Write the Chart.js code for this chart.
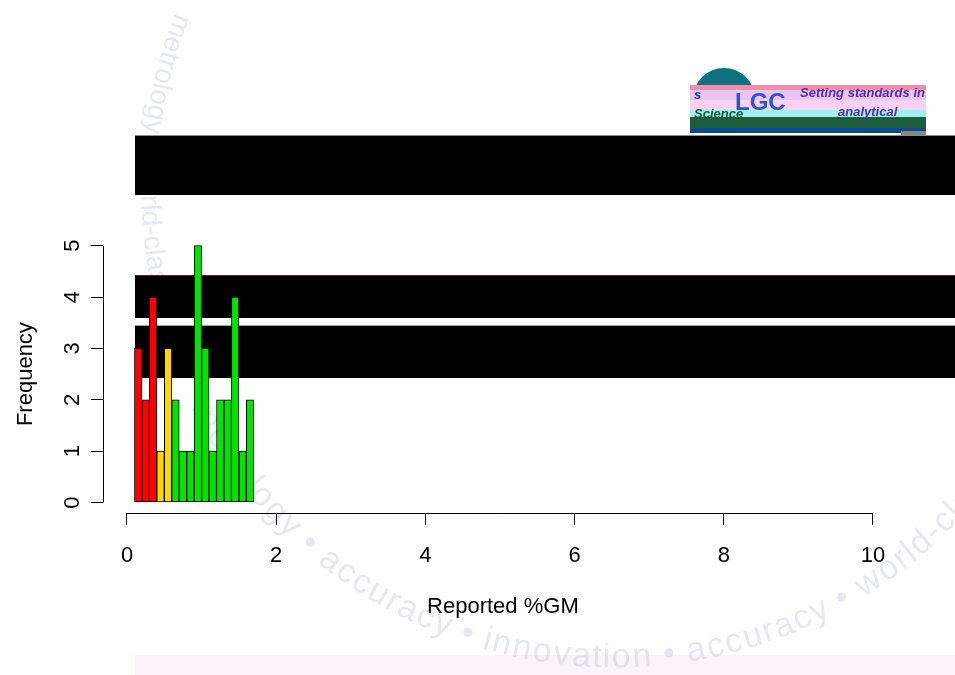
<!DOCTYPE html>
<html><head><meta charset="utf-8">
<script src="https://cdn.jsdelivr.net/npm/chart.js@4/dist/chart.umd.min.js"></script>
<style>html,body{margin:0;padding:0;background:#fff;overflow:hidden}#wrap{width:955px;height:675px;position:relative}</style>
</head><body><div id="wrap"><canvas id="c" width="955" height="675"></canvas></div>
<script>
// ---- data ----
const binLower  = [0.1,0.2,0.3,0.4,0.5,0.6,0.7,0.8,0.9,1.0,1.1,1.2,1.3,1.4,1.5,1.6];
const binWidth  = 0.1;
const frequency = [3,2,4,1,3,2,1,1,5,3,1,2,2,4,1,2];
const zoneLimits = [0.4, 0.6];          // red below first, gold below second, green above
const zoneColors = ['#ff0000', '#ffd700', '#00e400'];
const xTicks = [0,2,4,6,8,10];
const yTicks = [0,1,2,3,4,5];
const xTitle = 'Reported %GM';
const yTitle = 'Frequency';
const watermarkUpper = 'metrology \u2022 world-class \u2022 ';
const watermarkLower = 'metrology \u2022 accuracy \u2022 innovation \u2022 accuracy \u2022 world-class \u2022 metrology';

const FONT = 'Liberation Sans, Arial, sans-serif';

function zoneColor(lo){
  if (lo < zoneLimits[0] - 1e-9) return zoneColors[0];
  if (lo < zoneLimits[1] - 1e-9) return zoneColors[1];
  return zoneColors[2];
}

function drawArcText(ctx, text, cx, cy, r, startDeg, tracking){
  let th = startDeg * Math.PI / 180;
  for (const ch of text){
    const w = ctx.measureText(ch).width * tracking;
    const mid = th - (w/2)/r;
    const x = cx + r*Math.cos(mid), y = cy + r*Math.sin(mid);
    ctx.save();
    ctx.translate(x, y);
    ctx.rotate(mid - Math.PI/2);
    ctx.fillText(ch, 0, 0);
    ctx.restore();
    th -= w / r;
  }
}

function drawLogo(ctx){
  ctx.save();
  ctx.textAlign = 'left';
  ctx.fillStyle = '#0f7281';
  ctx.beginPath(); ctx.arc(724, 99, 31, Math.PI, 2*Math.PI); ctx.fill();
  const bands = [[85,5,'#ee8fa8'],[90,10,'#e9c6f2'],[100,10,'#f9d2f3'],[110,7,'#9ff0ee'],[117,11,'#1c5e3c'],[128,5,'#0b4a8e']];
  bands.forEach(([y,h,c]) => { ctx.fillStyle = c; ctx.fillRect(690, y, 236, h); });
  ctx.fillStyle = '#888'; ctx.fillRect(901, 131, 25, 4);
  ctx.textBaseline = 'alphabetic';
  ctx.font = 'bold 24px ' + FONT; ctx.fillStyle = '#2f55c8'; ctx.fillText('LGC', 735, 110);
  ctx.font = 'italic bold 13px ' + FONT; ctx.fillStyle = '#5a2aa0';
  ctx.fillText('Setting standards in', 800, 97);
  ctx.fillText('analytical', 838, 116);
  ctx.fillStyle = '#1a3a8a'; ctx.fillText('s', 694, 99);
  ctx.fillStyle = '#0f5a3a'; ctx.fillText('Science', 694, 118);
  ctx.restore();
}

const decor = {
  id: 'decor',
  beforeDraw(chart){
    const ctx = chart.ctx;
    ctx.save();
    ctx.fillStyle = '#ffffff';
    ctx.fillRect(0, 0, chart.width, chart.height);
    // pink strip at bottom
    ctx.fillStyle = '#fdf1fb';
    ctx.fillRect(135, 655, 820, 20);
    // watermark
    ctx.fillStyle = 'rgba(175,175,215,0.3)';
    ctx.textAlign = 'center'; ctx.textBaseline = 'middle';
    ctx.font = '28px ' + FONT;
    drawArcText(ctx, watermarkUpper, 615, 190, 466, 202, 1.0);
    ctx.font = '34px ' + FONT;
    drawArcText(ctx, watermarkLower, 615, 192, 466, 153.3, 1.1);
    // black blocks
    ctx.fillStyle = '#000';
    ctx.fillRect(135, 136, 820, 59);
    ctx.fillRect(135, 276, 820, 42);
    ctx.fillRect(135, 326, 820, 52);
    ctx.fillStyle = '#8a8a8a'; ctx.fillRect(135, 135, 820, 1);
    ctx.fillStyle = '#5a2038'; ctx.fillRect(135, 275, 820, 1);
    ctx.fillStyle = '#a0a0a0'; ctx.fillRect(135, 325, 820, 1);
    drawLogo(ctx);
    ctx.restore();
  },
  afterDraw(chart){
    const ctx = chart.ctx, xs = chart.scales.x, ys = chart.scales.y;
    ctx.save();
    ctx.strokeStyle = '#000'; ctx.lineWidth = 1;
    const yb = Math.round(chart.chartArea.bottom) + 0.5;
    const xl = Math.round(chart.chartArea.left) + 0.5;
    ctx.beginPath();
    ctx.moveTo(xs.getPixelForValue(xTicks[0]), yb);
    ctx.lineTo(xs.getPixelForValue(xTicks[xTicks.length-1]), yb);
    ctx.moveTo(xl, ys.getPixelForValue(yTicks[0]));
    ctx.lineTo(xl, ys.getPixelForValue(yTicks[yTicks.length-1]));
    ctx.stroke();
    ctx.restore();
  }
};

const tickFont = {family: FONT, size: 22};

new Chart(document.getElementById('c'), {
  type: 'bar',
  data: {
    datasets: [{
      data: binLower.map((b, i) => ({x: b + binWidth/2, y: frequency[i]})),
      backgroundColor: binLower.map(zoneColor),
      borderColor: '#000',
      borderWidth: 1,
      borderSkipped: false,
      barPercentage: 1,
      categoryPercentage: 1
    }]
  },
  options: {
    responsive: false,
    animation: false,
    devicePixelRatio: 1,
    layout: {padding: {top: 235.4, right: 52.2, left: 0, bottom: 0}},
    plugins: {legend: {display: false}, tooltip: {enabled: false}},
    scales: {
      x: {
        type: 'linear', min: -0.3217, max: 10.4, offset: false,
        grid: {offset: false, drawOnChartArea: false, drawTicks: true, tickLength: 12, color: '#000', lineWidth: 1},
        border: {display: false},
        ticks: {font: tickFont, color: '#000', padding: 17.7, autoSkip: false, maxRotation: 0, minRotation: 0},
        afterBuildTicks: s => { s.ticks = xTicks.map(v => ({value: v})); },
        title: {display: true, text: xTitle, font: tickFont, color: '#000', padding: {top: 0, bottom: 54.4}},
        afterFit: s => { s.height = 162.2; }
      },
      y: {
        type: 'linear', min: -0.2, max: 5.2,
        grid: {drawOnChartArea: false, drawTicks: true, tickLength: 12, color: '#000', lineWidth: 1},
        border: {display: false},
        ticks: {font: tickFont, color: '#000', padding: 12, crossAlign: 'center', minRotation: 90, maxRotation: 90, autoSkip: false},
        afterBuildTicks: s => { s.ticks = yTicks.map(v => ({value: v})); },
        title: {display: true, text: yTitle, font: tickFont, color: '#000', padding: {top: 13, bottom: 0}},
        afterFit: s => { s.width = 103; }
      }
    }
  },
  plugins: [decor]
});
</script>
</body></html>
